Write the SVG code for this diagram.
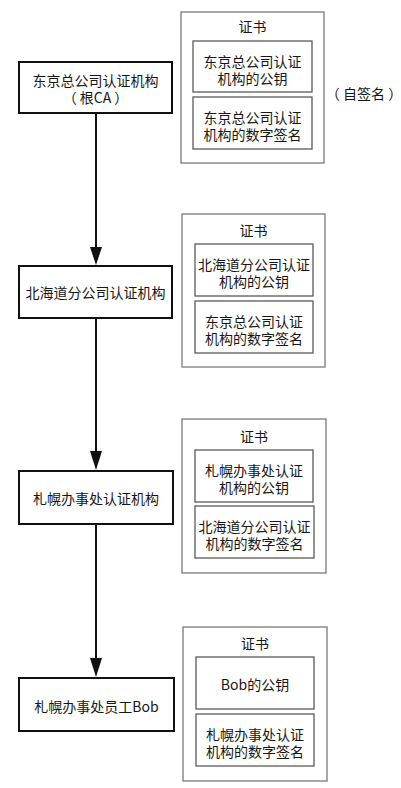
<svg xmlns="http://www.w3.org/2000/svg" width="401" height="788" viewBox="0 0 401 788">
<style>
text{font-family:"Noto Sans CJK SC","Noto Sans",sans-serif;font-size:14px;fill:#161616;text-anchor:middle;dominant-baseline:central}
.node{fill:#fff;stroke:#111;stroke-width:2}
.cert{fill:#fff;stroke:#7a7a7a;stroke-width:1.3}
.inner{fill:#fff;stroke:#5a5a5a;stroke-width:1.3}
.conn{stroke:#111;stroke-width:2;fill:none}
.head{fill:#111}
</style>
<rect width="401" height="788" fill="#fff"/>
<g id="connectors">
<line class="conn" x1="96" y1="113" x2="96" y2="247"/>
<path class="head" d="M90,247 L102,247 L96,265 Z"/>
<line class="conn" x1="96" y1="318" x2="96" y2="451"/>
<path class="head" d="M90,451 L102,451 L96,470 Z"/>
<line class="conn" x1="96" y1="524" x2="96" y2="658"/>
<path class="head" d="M90,658 L102,658 L96,677 Z"/>
</g>
<g id="node-tokyo">
<rect class="node" x="19" y="62" width="153" height="51"/>
<text x="95.5" y="80">东京总公司认证机构</text>
<text x="95.5" y="97">（ 根CA ）</text>
</g>
<g id="cert-tokyo">
<rect class="cert" x="181" y="12" width="143" height="151"/>
<text x="252.5" y="26">证书</text>
<rect class="inner" x="193" y="41" width="119" height="51"/>
<text x="252.5" y="61">东京总公司认证</text>
<text x="252.5" y="77.5">机构的公钥</text>
<rect class="inner" x="193" y="97" width="119" height="52"/>
<text x="252.5" y="117">东京总公司认证</text>
<text x="252.5" y="133.5">机构的数字签名</text>
</g>
<g id="self-signed">
<text x="364" y="93">（ 自签名 ）</text>
</g>
<g id="node-hokkaido">
<rect class="node" x="19" y="266" width="153" height="52"/>
<text x="95.5" y="292">北海道分公司认证机构</text>
</g>
<g id="cert-hokkaido">
<rect class="cert" x="182" y="214" width="143" height="153"/>
<text x="253.5" y="230">证书</text>
<rect class="inner" x="195" y="244" width="118" height="52"/>
<text x="254" y="264">北海道分公司认证</text>
<text x="254" y="280.5">机构的公钥</text>
<rect class="inner" x="195" y="301" width="118" height="52"/>
<text x="254" y="321">东京总公司认证</text>
<text x="254" y="337.5">机构的数字签名</text>
</g>
<g id="node-sapporo">
<rect class="node" x="19" y="471" width="154" height="53"/>
<text x="96" y="498">札幌办事处认证机构</text>
</g>
<g id="cert-sapporo">
<rect class="cert" x="182" y="419" width="144" height="154"/>
<text x="254" y="436">证书</text>
<rect class="inner" x="195" y="450" width="118" height="52"/>
<text x="254" y="470">札幌办事处认证</text>
<text x="254" y="486.5">机构的公钥</text>
<rect class="inner" x="195" y="506" width="119" height="52"/>
<text x="254.5" y="526">北海道分公司认证</text>
<text x="254.5" y="542.5">机构的数字签名</text>
</g>
<g id="node-bob">
<rect class="node" x="19" y="678" width="155" height="53"/>
<text x="96.5" y="706">札幌办事处员工Bob</text>
</g>
<g id="cert-bob">
<rect class="cert" x="183" y="627" width="144" height="154"/>
<text x="255" y="643">证书</text>
<rect class="inner" x="196" y="657" width="118" height="52"/>
<text x="255" y="683.5">Bob的公钥</text>
<rect class="inner" x="196" y="714" width="118" height="52"/>
<text x="255" y="734">札幌办事处认证</text>
<text x="255" y="750.5">机构的数字签名</text>
</g>
</svg>
